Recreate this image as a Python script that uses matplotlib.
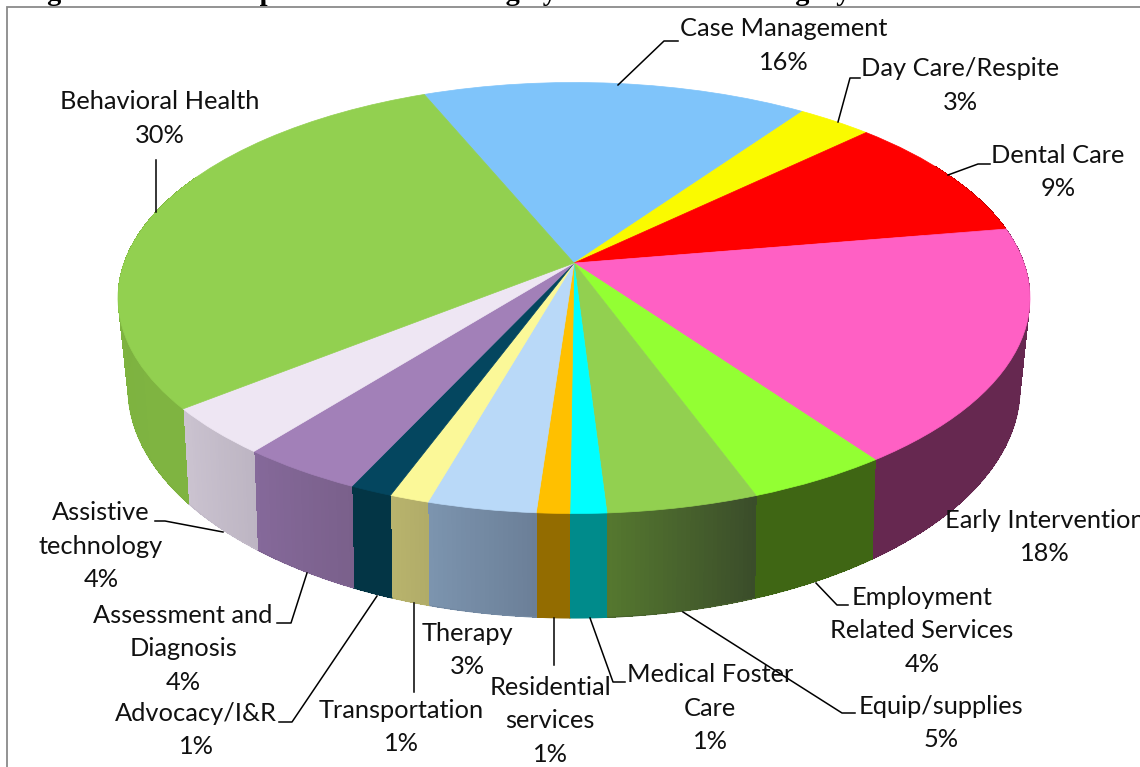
import numpy as np
import matplotlib
matplotlib.use("Agg")
import matplotlib.pyplot as plt
import matplotlib.transforms as mtransforms
from matplotlib.colors import to_rgb

# ---- data -----------------------------------------------------------------
title = "Figure 3. CSHCN Special Needs Funding by Other Service Category"
categories = ["Case Management", "Day Care/Respite", "Dental Care", "Early Intervention",
              "Employment\nRelated Services", "Equip/supplies", "Medical Foster\nCare",
              "Residential\nservices", "Therapy", "Transportation", "Advocacy/I&R",
              "Assessment and\nDiagnosis", "Assistive\ntechnology", "Behavioral Health"]
shares = [16.0, 3.1, 9.5, 17.8, 4.3, 4.6, 1.1, 1.0, 3.3, 1.2, 1.3, 3.75, 3.6, 29.5]
pct_labels = ["16%", "3%", "9%", "18%", "4%", "5%", "1%", "1%", "3%", "1%", "1%", "4%", "4%", "30%"]
top_colors = ["#7FC4FA", "#FAFA00", "#FF0000", "#FF60C4", "#93FF33", "#92D050", "#00FFFF",
              "#FFC000", "#B9D9F8", "#FBF898", "#04465F", "#A280B8", "#EEE6F3", "#92D050"]
wall_left = ["#5a8ab0", "#a0a000", "#990000", "#662850", "#3F6614", "#55782F", "#008B8B",
             "#936C00", "#7C94AE", "#B9B46D", "#033545", "#85699A", "#CBC3D0", "#7CB13F"]
wall_right = ["#5a8ab0", "#a0a000", "#990000", "#662850", "#3F6614", "#3A4C2A", "#008B8B",
              "#936C00", "#6B7F97", "#B0AB68", "#033545", "#7A608B", "#BDB5C3", "#7FB441"]

# ---- layout ---------------------------------------------------------------
W, H = 1140, 767
FONT = "Lato"
START = -22.5          # clockwise from the top, where the first slice begins


class Perspective(mtransforms.Transform):
    """Projects the unit disc onto an ellipse whose centre appears off-centre."""
    input_dims = output_dims = 2
    is_separable = False
    has_inverse = False

    def __init__(self, cx, cy, rx, ry, k):
        super().__init__()
        self.cx, self.cy, self.rx, self.ry, self.k = cx, cy, rx, ry, k

    def transform_non_affine(self, xy):
        xy = np.asarray(xy, float)
        u, v = xy[:, 0], xy[:, 1]
        w = 1 + self.k * v
        a = self.rx * np.sqrt(1 - self.k ** 2)
        return np.column_stack([self.cx + a * u / w,
                                self.cy - (self.ry * v + self.k * self.ry) / w])


top_proj = Perspective(574, 298, 456, 215.5, 0.162)
bottom_proj = Perspective(574, 388, 446, 230, 0.177)

fig = plt.figure(figsize=(W / 100, H / 100), dpi=100, facecolor="white")
ax = fig.add_axes([0, 0, 1, 1])

wedges, _ = ax.pie(shares, startangle=90 - START, counterclock=False, colors=top_colors,
                   wedgeprops=dict(linewidth=0.5, zorder=3))
for wedge, c in zip(wedges, top_colors):
    wedge.set_edgecolor(c)
    wedge.set_transform(top_proj + ax.transData)

ax.set_aspect("auto")
ax.set_xlim(0, W)
ax.set_ylim(H, 0)
ax.axis("off")

# side wall of the pie, built from the same shares
edges = START + 360 * np.cumsum([0] + shares) / np.sum(shares)
for i in range(len(shares)):
    lo, hi = max(edges[i], 60), min(edges[i + 1], 296)
    if hi <= lo:
        continue
    n = max(8, int((hi - lo) * 2))
    steps = np.linspace(lo, hi, n + 1)
    c_right, c_left = np.array(to_rgb(wall_right[i])), np.array(to_rgb(wall_left[i]))
    for j in range(n):
        t = np.radians(steps[j:j + 2])
        disc = np.column_stack([np.sin(t), np.cos(t)])
        a = top_proj.transform_non_affine(disc)
        b = bottom_proj.transform_non_affine(disc)[::-1]
        quad = np.vstack([a, b])
        col = c_right + (c_left - c_right) * (j + 0.5) / n
        ax.fill(quad[:, 0], quad[:, 1], facecolor=col, edgecolor="none", lw=0,
                antialiased=False, zorder=2)
    # smooth outline of the slice wall on the outer (white) side
    t = np.radians(np.linspace(lo, hi, 30))
    disc = np.column_stack([np.sin(t), np.cos(t)])
    rim = bottom_proj.transform_non_affine(disc)
    ax.plot(rim[:, 0], rim[:, 1], color=(c_right + c_left) / 2, lw=0.8, zorder=2)

# frame and clipped title
ax.plot([7, 7, W], [H, 6.5, 6.5], color="#8a8a8a", lw=1.3, zorder=1, solid_joinstyle="miter")
ax.text(22, 0.3, title, family="Liberation Serif", weight="bold", fontsize=20.4,
        ha="left", va="baseline", color="black", zorder=6)

# labels
label_centres = [(784, 45.5), (960, 85.5), (1058, 172), (1045, 537), (922, 631), (941, 723),
                 (710, 708), (550, 721), (467, 650), (401, 727), (196, 730), (183, 649),
                 (101, 546), (160, 118.5)]
for name, pct, (x, y) in zip(categories, pct_labels, label_centres):
    ax.text(x, y, f"{name}\n{pct}", family=FONT, fontsize=18.3, ha="center", va="center",
            ma="center", linespacing=1.54, color="#111111", zorder=7, clip_on=True)

# leader lines
leaders = [
    [(618, 85), (664, 41), (678, 41)],
    [(838, 122), (850, 78), (860, 78)],
    [(948, 175), (978, 164), (990, 164)],
    [(156, 212), (156, 160)],
    [(155, 521), (165, 521), (223, 532)],
    [(277, 623), (291, 623), (307, 573)],
    [(279, 722), (292, 722), (377, 596)],
    [(414, 603), (414, 692)],
    [(554, 618), (554, 665)],
    [(590, 618), (613, 682), (625, 682)],
    [(683, 612), (842, 713), (855, 713)],
    [(816, 583), (837, 605), (848, 605)],
]
for pts in leaders:
    xs, ys = zip(*pts)
    ax.plot(xs, ys, color="black", lw=1.1, zorder=5)

fig.savefig("out.png", dpi=100)
